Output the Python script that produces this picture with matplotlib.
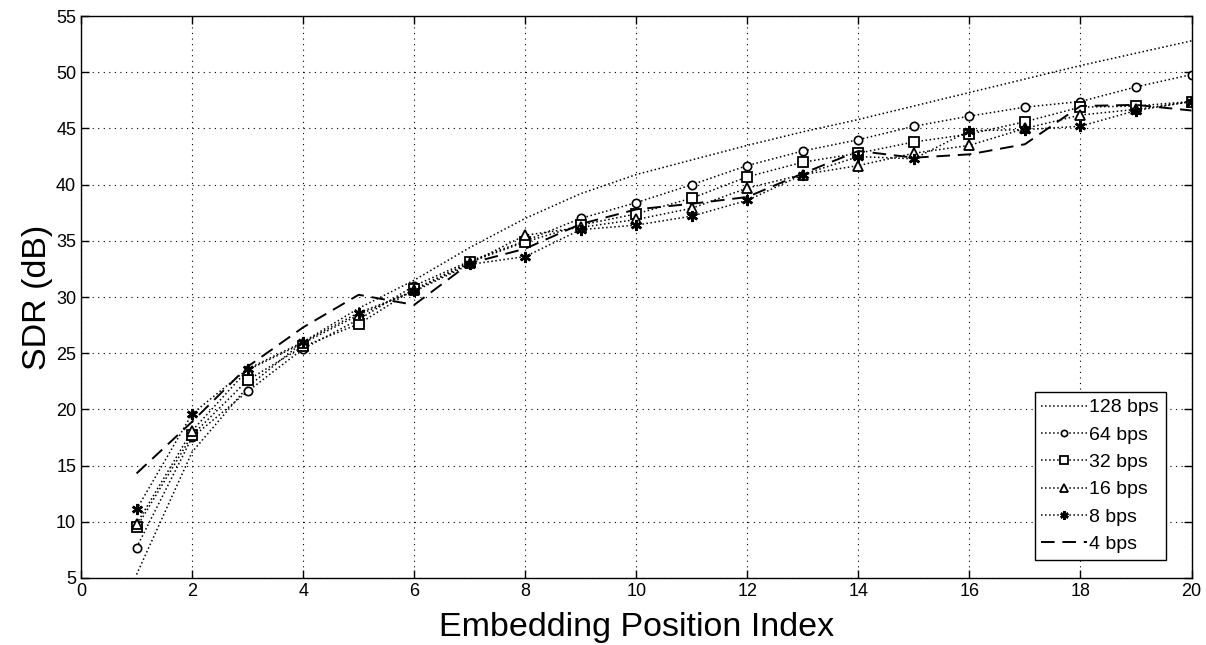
import matplotlib
matplotlib.use("Agg")
import matplotlib.pyplot as plt

plt.rcParams["font.family"] = ["Liberation Sans", "DejaVu Sans"]

positions = list(range(1, 21))

sdr_128 = [5.3, 16.2, 22.0, 26.0, 29.0, 31.5, 34.4, 37.0, 39.2, 40.9,
           42.2, 43.5, 44.7, 45.8, 47.0, 48.2, 49.4, 50.6, 51.7, 52.8]
sdr_64 = [7.7, 17.5, 21.6, 25.4, 28.0, 31.0, 33.2, 35.0, 37.0, 38.4,
          40.0, 41.7, 43.0, 44.0, 45.2, 46.1, 46.9, 47.4, 48.7, 49.8]
sdr_32 = [9.5, 17.7, 22.6, 25.6, 27.6, 30.7, 33.1, 34.9, 36.4, 37.4,
          38.8, 40.7, 42.0, 42.8, 43.8, 44.5, 45.6, 46.9, 47.0, 47.4]
sdr_16 = [9.8, 18.1, 23.5, 25.9, 28.4, 30.6, 33.0, 35.5, 36.2, 36.9,
          37.9, 39.7, 40.9, 41.7, 42.8, 43.5, 45.0, 46.2, 46.7, 47.4]
sdr_8 = [11.1, 19.6, 23.6, 26.0, 28.6, 30.5, 32.9, 33.6, 36.0, 36.4,
         37.2, 38.6, 40.9, 42.5, 42.3, 44.8, 44.9, 45.2, 46.6, 47.4]
sdr_4 = [14.3, 18.9, 23.8, 27.3, 30.2, 29.3, 33.0, 34.3, 36.5, 37.8,
         38.3, 38.9, 41.0, 43.0, 42.4, 42.7, 43.6, 47.0, 47.1, 46.6]

labels = ["128 bps", "64 bps", "32 bps", "16 bps", "8 bps", "4 bps"]

fig = plt.figure(figsize=(12.06, 6.45), dpi=100)
ax = fig.add_axes([0.0672, 0.104, 0.9208, 0.871])

ax.plot(positions, sdr_128, color="black", linestyle=":", linewidth=1.1,
        label=labels[0])
ax.plot(positions, sdr_64, color="black", linestyle=":", linewidth=1.1,
        marker="o", markersize=6, markerfacecolor="white",
        markeredgewidth=1.2, label=labels[1])
ax.plot(positions, sdr_32, color="black", linestyle=":", linewidth=1.1,
        marker="s", markersize=7, markerfacecolor="white",
        markeredgewidth=1.3, label=labels[2])
ax.plot(positions, sdr_16, color="black", linestyle=":", linewidth=1.1,
        marker="^", markersize=7, markerfacecolor="white",
        markeredgewidth=1.3, label=labels[3])
ax.plot(positions, sdr_8, color="black", linestyle=":", linewidth=1.1,
        marker=(6, 2, 0), markersize=8, markeredgewidth=1.8,
        label=labels[4])
ax.plot(positions, sdr_4, color="black", linestyle=(0, (7, 4)),
        linewidth=1.4, label=labels[5])

ax.set_xlim(0, 20)
ax.set_ylim(5, 55)
ax.set_xticks(range(0, 21, 2))
ax.set_yticks(range(5, 56, 5))
ax.tick_params(direction="in", top=True, right=True, labelsize=13,
               length=6, width=1, colors="black")
ax.grid(True, color="black", linestyle=(0, (1, 4)), linewidth=0.8)
for spine in ax.spines.values():
    spine.set_linewidth(1)
    spine.set_color("black")

ax.set_xlabel("Embedding Position Index", fontsize=24.5, labelpad=9)
ax.set_ylabel("SDR (dB)", fontsize=24.5, labelpad=2)

leg = ax.legend(loc="lower right", bbox_to_anchor=(0.9766, 0.032),
                fontsize=14, frameon=True, fancybox=False,
                edgecolor="black", framealpha=1, handlelength=2.35,
                handletextpad=0.1, borderpad=0.35, labelspacing=0.5,
                borderaxespad=0, markerscale=0.75)
leg.get_frame().set_linewidth(1)

fig.savefig("out.png", dpi=100)
